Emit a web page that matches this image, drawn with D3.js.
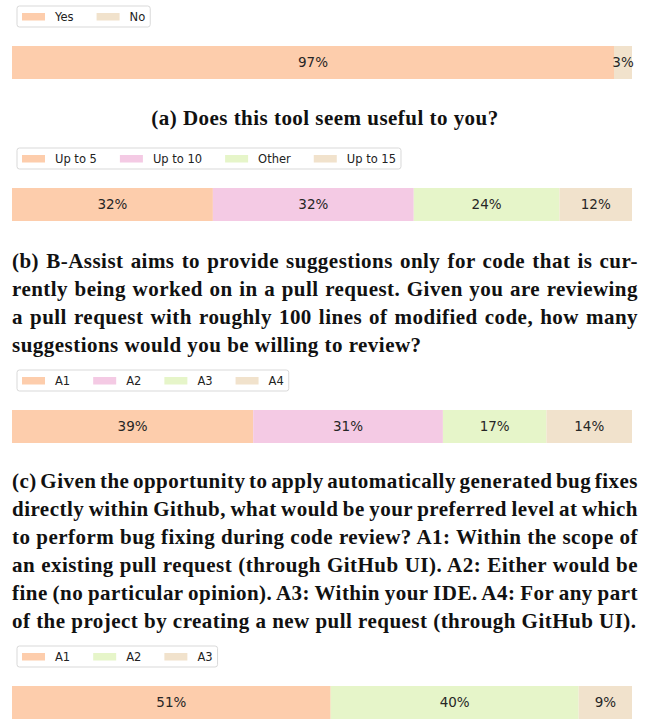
<!DOCTYPE html>
<html>
<head>
<meta charset="utf-8">
<script src="https://cdn.jsdelivr.net/npm/d3@7"></script>
<style>
  body { margin: 0; background: #fff; }
  svg { display: block; }
</style>
</head>
<body>
<div id="chart"></div>
<script>
// survey answers, percent of respondents
const usefulLabels = ["Yes", "No"];
const usefulValues = [97.1, 2.9];

const suggestLabels = ["Up to 5", "Up to 10", "Other", "Up to 15"];
const suggestValues = [32.4, 32.4, 23.5, 11.7];

const levelLabels = ["A1", "A2", "A3", "A4"];
const levelValues = [38.9, 30.6, 16.7, 13.8];

const scopeLabels = ["A1", "A2", "A3"];
const scopeValues = [51.4, 40.0, 8.6];

const captionA = ["(a) Does this tool seem useful to you?"];
const captionB = [
    "(b) B-Assist aims to provide suggestions only for code that is cur-",
    "rently being worked on in a pull request. Given you are reviewing",
    "a pull request with roughly 100 lines of modified code, how many",
    "suggestions would you be willing to review?"
];
const captionC = [
    "(c) Given the opportunity to apply automatically generated bug fixes",
    "directly within Github, what would be your preferred level at which",
    "to perform bug fixing during code review? A1: Within the scope of",
    "an existing pull request (through GitHub UI). A2: Either would be",
    "fine (no particular opinion). A3: Within your IDE. A4: For any part",
    "of the project by creating a new pull request (through GitHub UI)."
];

const width = 650;
const height = 719;
const pastel = d3.schemePastel2;

const svg = d3.select("#chart")
    .append("svg")
    .attr("width", width)
    .attr("height", height);

const x = d3.scaleLinear().domain([0, 100]).range([12, 632]);
const legendFont = 11.5;

function drawPanel(labels, values, colorIdx, top) {
    const color = d3.scaleOrdinal().domain(labels).range(colorIdx.map(i => pastel[i]));
    const g = svg.append("g");

    // legend
    const lg = g.append("g").attr("transform", `translate(17,${top})`);
    const frame = lg.append("rect")
        .attr("width", 100).attr("height", 21)
        .attr("rx", 2.5)
        .attr("fill", "#fff")
        .attr("stroke", "#d9d9d9")
        .attr("stroke-width", 1);
    let cx = 5;
    labels.forEach(l => {
        lg.append("rect")
            .attr("x", cx).attr("y", 7)
            .attr("width", 23).attr("height", 7.5)
            .attr("fill", color(l));
        const t = lg.append("text")
            .attr("x", cx + 33).attr("y", 10.5)
            .attr("dy", "0.35em")
            .style("font-family", "DejaVu Sans")
            .style("font-size", legendFont + "px")
            .attr("fill", "#222")
            .text(l);
        cx += 33 + t.node().getComputedTextLength() + 23;
    });
    frame.attr("width", cx - 23 + 5);

    // stacked bar
    const starts = d3.cumsum([0].concat(values));
    const segs = values.map((v, i) => ({label: labels[i], value: v, start: starts[i]}));
    const barTop = top + 40;
    g.selectAll("rect.seg")
        .data(segs)
        .join("rect")
        .attr("class", "seg")
        .attr("x", d => x(d.start))
        .attr("y", barTop)
        .attr("width", d => x(d.start + d.value) - x(d.start))
        .attr("height", 33)
        .attr("fill", d => color(d.label));
    g.selectAll("text.val")
        .data(segs)
        .join("text")
        .attr("class", "val")
        .attr("x", d => x(d.start + d.value / 2))
        .attr("y", barTop + 16.5)
        .attr("dy", "0.35em")
        .attr("text-anchor", "middle")
        .style("font-family", "DejaVu Sans")
        .style("font-size", "13.5px")
        .attr("fill", "#262626")
        .text(d => d3.format(".0f")(d.value) + "%");
}

function drawCaption(lines, baseline, centered) {
    const g = svg.append("g");
    lines.forEach((line, i) => {
        const t = g.append("text")
            .attr("y", baseline + i * 28)
            .style("font-family", "'Liberation Serif', serif")
            .style("font-weight", "bold")
            .style("font-size", "21px")
            .style("letter-spacing", "0.47px")
            .attr("fill", "#111")
            .text(line);
        if (centered) {
            t.attr("x", width / 2).attr("text-anchor", "middle");
            return;
        }
        t.attr("x", 12);
        if (i < lines.length - 1) {
            // justify: spread the leftover room over the word gaps
            const spaces = line.split(" ").length - 1;
            const natural = t.node().getComputedTextLength();
            t.style("word-spacing", ((626 - natural) / spaces) + "px");
        }
    });
}

drawPanel(usefulLabels, usefulValues, [1, 6], 6);
drawCaption(captionA, 125, true);

drawPanel(suggestLabels, suggestValues, [1, 3, 4, 6], 148);
drawCaption(captionB, 268, false);

drawPanel(levelLabels, levelValues, [1, 3, 4, 6], 370);
drawCaption(captionC, 488, false);

drawPanel(scopeLabels, scopeValues, [1, 4, 6], 646);
</script>
</body>
</html>
